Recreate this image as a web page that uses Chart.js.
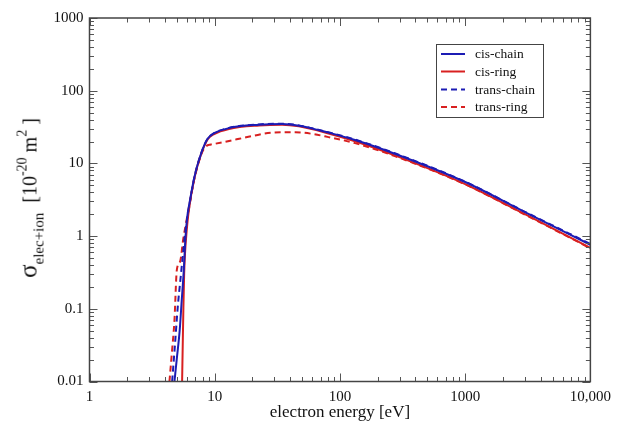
<!DOCTYPE html>
<html>
<head>
<meta charset="utf-8">
<script src="https://cdn.jsdelivr.net/npm/chart.js@4.4.1/dist/chart.umd.min.js"></script>
<style>
    html, body { margin: 0; padding: 0; background: #fff; }
    #wrap { position: relative; width: 618px; height: 427px; }
    #ytitle {
        position: absolute;
        left: 31px;
        top: 198px;
        transform: translate(-50%, -50%) rotate(-90deg);
        white-space: nowrap;
        font-family: "Liberation Serif", "DejaVu Serif", serif;
        font-size: 20px;
        color: #111;
        line-height: 1;
    }
    #ytitle .sig { font-size: 25px; }
    #ytitle sub { font-size: 15px; vertical-align: -7px; }
    #ytitle sup { font-size: 14px; vertical-align: 10px; }
</style>
</head>
<body>
<div id="wrap">
    <canvas id="xsChart"></canvas>
    <div id="ytitle"><span class="sig">σ</span><sub>elec+ion</sub>&nbsp; [10<sup>-20</sup> m<sup>2</sup> ]</div>
</div>
<script>
// Values (energy in eV, cross section in 1e-20 m^2)
const cisChainE = [4.77, 5.0, 5.25, 5.45, 5.65, 5.85, 6.05, 6.3, 6.9, 7.8, 8.8, 9.9, 13, 22.6, 34.5, 47, 81, 132, 274, 1000, 3000, 10000];
const cisChainS = [0.01, 0.022, 0.05, 0.13, 0.32, 1.0, 1.9, 2.9, 6.6, 13.8, 22, 26, 30.6, 34, 34.8, 33, 26.5, 21, 13.6, 5.55, 2.14, 0.76];

const cisRingE = [5.49, 5.55, 5.62, 5.7, 5.8, 5.95, 6.2, 6.9, 7.8, 8.8, 9.9, 13, 22.6, 34.5, 47, 81, 132, 274, 1000, 3000, 10000];
const cisRingS = [0.01, 0.03, 0.1, 0.3, 0.6, 1.1, 2.2, 6.4, 13.5, 21.5, 25.3, 29.8, 33.2, 34.0, 32.3, 25.8, 20.2, 12.9, 5.2, 2.0, 0.69];

const transChainE = [4.57, 4.8, 5.07, 5.32, 5.55, 5.8, 6.2, 6.9, 7.8, 8.8, 9.9, 13, 22.6, 34.5, 47, 81, 132, 274, 1000, 3000, 10000];
const transChainS = [0.01, 0.03, 0.107, 0.25, 0.52, 1.1, 2.3, 6.6, 13.8, 22, 26, 30.8, 34.4, 35.2, 33.3, 26.8, 21.3, 13.8, 5.6, 2.16, 0.78];

const transRingE = [4.35, 4.55, 4.77, 4.98, 5.3, 5.6, 5.9, 6.25, 6.9, 7.8, 8.4, 9.3, 10, 12, 15.7, 20, 28.8, 44, 60, 81, 132, 274, 1000, 3000, 10000];
const transRingS = [0.01, 0.025, 0.07, 0.34, 0.45, 0.9, 1.5, 2.6, 6.3, 13.3, 16.8, 18.2, 18.6, 19.8, 21.8, 23.8, 26.5, 26.8, 25.5, 23, 19.0, 12.6, 5.15, 1.98, 0.68];

const xTickValues = [1, 10, 100, 1000, 10000];
const xTickLabels = ['1', '10', '100', '1000', '10,000'];
const yTickValues = [0.01, 0.1, 1, 10, 100, 1000];
const yTickLabels = ['0.01', '0.1', '1', '10', '100', '1000'];

const BLUE = '#1c1cb4';
const RED = '#d82020';
const SERIF = '"Liberation Serif", "DejaVu Serif", serif';

function toPoints(xs, ys) {
    return xs.map((v, i) => ({ x: v, y: ys[i] }));
}

function series(label, xs, ys, color, dashed) {
    return {
        label: label,
        data: toPoints(xs, ys),
        borderColor: color,
        backgroundColor: color,
        borderWidth: 2,
        borderDash: dashed ? [6, 4] : [],
        pointRadius: 0,
        cubicInterpolationMode: 'monotone',
        fill: false
    };
}

// inward tick marks on all four sides plus the frame
const frameTicks = {
    id: 'frameTicks',
    afterDatasetsDraw(chart) {
        const { ctx, chartArea: a, scales } = chart;
        const x = scales.x, y = scales.y;
        ctx.save();
        ctx.strokeStyle = '#555';
        ctx.lineWidth = 1;
        ctx.beginPath();
        for (let d = 1; d <= 10000; d *= 10) {
            for (let m = 1; m < 10; m++) {
                const v = d * m;
                if (v > 10000) break;
                const len = m === 1 ? 8 : 4.5;
                const px = Math.round(x.getPixelForValue(v)) + 0.5;
                ctx.moveTo(px, a.bottom); ctx.lineTo(px, a.bottom - len);
                ctx.moveTo(px, a.top); ctx.lineTo(px, a.top + len);
            }
        }
        for (let d = 0.01; d <= 1000; d *= 10) {
            for (let m = 1; m < 10; m++) {
                const v = d * m;
                if (v > 1000.001) break;
                const len = m === 1 ? 8 : 4.5;
                const py = Math.round(y.getPixelForValue(v)) + 0.5;
                ctx.moveTo(a.left, py); ctx.lineTo(a.left + len, py);
                ctx.moveTo(a.right, py); ctx.lineTo(a.right - len, py);
            }
        }
        ctx.stroke();
        ctx.strokeStyle = '#444';
        ctx.lineWidth = 1.5;
        ctx.strokeRect(a.left, a.top, a.right - a.left, a.bottom - a.top);
        ctx.restore();
    }
};

// boxed legend inside the plot, upper right
const boxLegend = {
    id: 'boxLegend',
    afterDraw(chart) {
        const ctx = chart.ctx;
        const rows = [54, 71.5, 89.5, 107];
        ctx.save();
        ctx.fillStyle = '#fff';
        ctx.fillRect(436, 44, 107, 73);
        ctx.strokeStyle = '#444';
        ctx.lineWidth = 1;
        ctx.strokeRect(436.5, 44.5, 107, 73);
        ctx.font = '13.5px ' + SERIF;
        ctx.textBaseline = 'middle';
        chart.data.datasets.forEach((ds, i) => {
            ctx.strokeStyle = ds.borderColor;
            ctx.lineWidth = 2;
            ctx.setLineDash(ds.borderDash);
            ctx.beginPath();
            ctx.moveTo(441, rows[i]);
            ctx.lineTo(465, rows[i]);
            ctx.stroke();
            ctx.setLineDash([]);
            ctx.fillStyle = '#111';
            ctx.fillText(ds.label, 475, rows[i] + 0.5);
        });
        ctx.restore();
    }
};

new Chart(document.getElementById('xsChart'), {
    type: 'line',
    data: {
        datasets: [
            series('cis-chain', cisChainE, cisChainS, BLUE, false),
            series('cis-ring', cisRingE, cisRingS, RED, false),
            series('trans-chain', transChainE, transChainS, BLUE, true),
            series('trans-ring', transRingE, transRingS, RED, true)
        ]
    },
    options: {
        responsive: true,
        maintainAspectRatio: false,
        animation: false,
        layout: {
            padding: { top: 18, right: 25, left: 0, bottom: 0 }
        },
        plugins: {
            legend: { display: false },
            tooltip: { enabled: false }
        },
        scales: {
            x: {
                type: 'logarithmic',
                min: 1,
                max: 10000,
                afterBuildTicks: (scale) => {
                    scale.ticks = xTickValues.map(v => ({ value: v }));
                },
                afterFit: (scale) => { scale.height = 45.5; },
                grid: { display: false, drawTicks: false },
                border: { display: false },
                ticks: {
                    autoSkip: false,
                    maxRotation: 0,
                    padding: 7,
                    color: '#111',
                    font: { family: SERIF, size: 15 },
                    callback: (v) => xTickLabels[xTickValues.indexOf(v)]
                },
                title: {
                    display: true,
                    text: 'electron energy [eV]',
                    color: '#111',
                    font: { family: SERIF, size: 17 },
                    padding: { top: 0, bottom: 4 }
                }
            },
            y: {
                type: 'logarithmic',
                min: 0.01,
                max: 1000,
                afterBuildTicks: (scale) => {
                    scale.ticks = yTickValues.map(v => ({ value: v }));
                },
                afterFit: (scale) => { scale.width = 89.5; },
                grid: { display: false, drawTicks: false },
                border: { display: false },
                ticks: {
                    autoSkip: false,
                    padding: 6,
                    color: '#111',
                    font: { family: SERIF, size: 15 },
                    callback: (v) => {
                        const i = yTickValues.findIndex(t => Math.abs(t - v) / t < 1e-6);
                        return i >= 0 ? yTickLabels[i] : '';
                    }
                }
            }
        }
    },
    plugins: [frameTicks, boxLegend]
});
</script>
</body>
</html>
